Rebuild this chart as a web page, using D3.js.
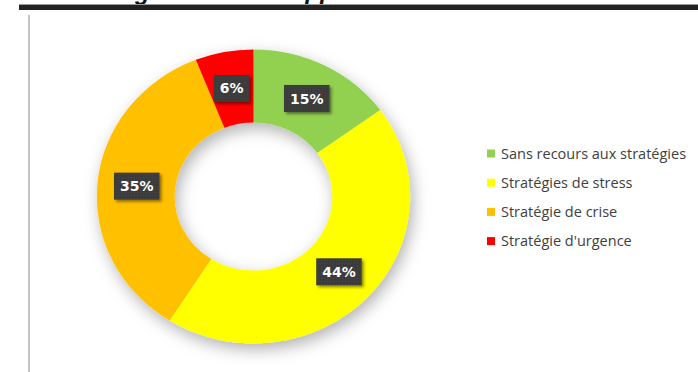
<!DOCTYPE html>
<html>
<head>
<meta charset="utf-8">
<script src="https://cdn.jsdelivr.net/npm/d3@7"></script>
<style>
  html, body { margin: 0; padding: 0; background: #fff; }
  svg { display: block; }
</style>
</head>
<body>
<svg id="chart" width="698" height="372"></svg>
<script>
// données du graphique
var categories = ["Sans recours aux stratégies", "Stratégies de stress", "Stratégie de crise", "Stratégie d'urgence"];
var values = [15, 44, 35, 6];
var colors = ["#92D050", "#FFFF00", "#FFC000", "#FF0000"];

var width = 698, height = 372;
var cx = 253.5, cy = 196.5;
var outerR = 147, innerR = 74;
var sx = 1.066; // l'image d'origine est un peu étirée en largeur

var svg = d3.select("#chart");
var defs = svg.append("defs");

/* ombre du donut */
var f = defs.append("filter").attr("id", "ringShadow")
    .attr("x", "-30%").attr("y", "-30%").attr("width", "160%").attr("height", "160%");
f.append("feDropShadow").attr("dx", 3).attr("dy", 6).attr("stdDeviation", 8)
    .attr("flood-color", "#000").attr("flood-opacity", 0.3);

/* ombre des étiquettes */
var f2 = defs.append("filter").attr("id", "boxShadow")
    .attr("x", "-30%").attr("y", "-30%").attr("width", "160%").attr("height", "160%");
f2.append("feDropShadow").attr("dx", 2).attr("dy", 2).attr("stdDeviation", 1.5)
    .attr("flood-color", "#000").attr("flood-opacity", 0.45);

/* texture pointillée des étiquettes */
var pat = defs.append("pattern").attr("id", "dots")
    .attr("width", 3).attr("height", 3).attr("patternUnits", "userSpaceOnUse");
pat.append("rect").attr("width", 3).attr("height", 3).attr("fill", "#3a3a3a");
pat.append("rect").attr("width", 1).attr("height", 1).attr("fill", "#4a4a4a");

/* titre coupé en haut + barre noire */
var title = svg.append("text")
    .attr("y", 0)
    .attr("font-family", "Liberation Sans, Arial, sans-serif")
    .attr("font-size", 24)
    .attr("font-weight", "bold")
    .attr("font-style", "italic")
    .attr("fill", "#111");
var t1 = title.append("tspan").text("Recours aux stratégies et ");
var t2 = title.append("tspan").text("d'appui");

var titleNode = title.node();
var gIdx = t1.text().indexOf("g");
var gx = titleNode.getStartPositionOfChar(gIdx).x;
title.attr("x", 133 - gx + 2);
var pIdx = t1.text().length + 2;
var px = titleNode.getStartPositionOfChar(pIdx).x;
t2.attr("dx", 292 - px);

svg.append("rect").attr("x", 19).attr("y", 4).attr("width", width - 19).attr("height", 1)
    .attr("fill", "#9a9a9a");
svg.append("rect").attr("x", 19).attr("y", 5).attr("width", width - 19).attr("height", 5)
    .attr("fill", "#222");

/* ligne verticale gauche */
svg.append("rect").attr("x", 28).attr("y", 15).attr("width", 2).attr("height", height - 15)
    .attr("fill", "#c4c4c4");

/* donut */
var pie = d3.pie().sort(null).value(function(d) { return d; });
var arcs = pie(values);
var arc = d3.arc().innerRadius(innerR).outerRadius(outerR);
var labelArc = d3.arc().innerRadius(110).outerRadius(110);

var g = svg.append("g").attr("transform", "translate(" + cx + "," + cy + ")");

g.append("g").attr("filter", "url(#ringShadow)")
    .append("g").attr("transform", "scale(" + sx + ",1)")
    .selectAll("path")
    .data(arcs)
    .enter()
    .append("path")
    .attr("d", arc)
    .attr("fill", function(d, i) { return colors[i]; });

/* étiquettes de pourcentage */
var lab = g.selectAll("g.lab")
    .data(arcs)
    .enter()
    .append("g")
    .attr("class", "lab")
    .attr("transform", function(d) {
        var c = labelArc.centroid(d);
        return "translate(" + (c[0] * sx) + "," + c[1] + ")";
    });

lab.each(function(d) {
    var el = d3.select(this);
    var rect = el.append("rect").attr("fill", "url(#dots)").attr("filter", "url(#boxShadow)");
    var txt = el.append("text")
        .attr("text-anchor", "middle")
        .attr("dy", "0.36em")
        .attr("font-family", "DejaVu Sans, Verdana, sans-serif")
        .attr("font-size", 14)
        .attr("font-weight", "bold")
        .attr("fill", "#fff")
        .text(Math.round(d.data) + "%");
    var w = txt.node().getComputedTextLength() + 12;
    rect.attr("x", -w / 2).attr("y", -13.5).attr("width", w).attr("height", 27);
});

/* légende */
var legend = svg.append("g").attr("transform", "translate(487,153.5)");
var item = legend.selectAll("g")
    .data(categories)
    .enter()
    .append("g")
    .attr("transform", function(d, i) { return "translate(0," + (i * 29.2) + ")"; });

item.append("rect")
    .attr("x", 0).attr("y", -4).attr("width", 8).attr("height", 8)
    .attr("fill", function(d, i) { return colors[i]; });

item.append("text")
    .attr("x", 14)
    .attr("dy", "0.36em")
    .attr("font-family", "Open Sans, sans-serif")
    .attr("font-size", 14.5)
    .attr("fill", "#404040")
    .text(function(d) { return d; });
</script>
</body>
</html>
